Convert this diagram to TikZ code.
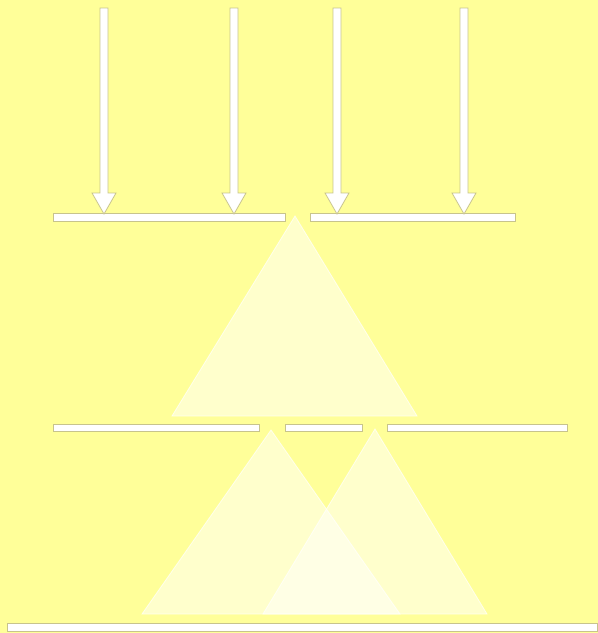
\documentclass[tikz,border=0pt]{standalone}
\begin{document}
\begin{tikzpicture}[x=1pt,y=-1pt,
  bar/.style={draw=edgegray,fill=white,line width=0.8pt},
  tri/.style={fill=white,fill opacity=0.5,draw=white,draw opacity=0.7,line width=0.8pt},
  arr/.style={draw=edgegray,fill=white,line width=0.8pt,line join=miter}]
\definecolor{bg}{RGB}{255,255,153}
\definecolor{edgegray}{RGB}{200,196,140}
\fill[bg] (0,0) rectangle (598,633);
\useasboundingbox (0,0) rectangle (598,633);
% bars
\draw[bar] (53,213) rectangle (285,221);
\draw[bar] (310,213) rectangle (515,221);
\draw[bar] (53,424) rectangle (259,431);
\draw[bar] (285,424) rectangle (362,431);
\draw[bar] (387,424) rectangle (567,431);
\draw[bar] (7,623) rectangle (597,631);
% arrows
\foreach \x in {104,234,337,464}{
  \draw[arr] (\x-4,8) -- (\x+4,8) -- (\x+4,193) -- (\x+12,193) -- (\x,214) -- (\x-12,193) -- (\x-4,193) -- cycle;
}
% triangles
\draw[tri] (295,216) -- (417,416) -- (172,416) -- cycle;
\draw[tri] (271,430) -- (400,614) -- (142,614) -- cycle;
\draw[tri] (375,429) -- (487,614) -- (263,614) -- cycle;
\end{tikzpicture}
\end{document}
